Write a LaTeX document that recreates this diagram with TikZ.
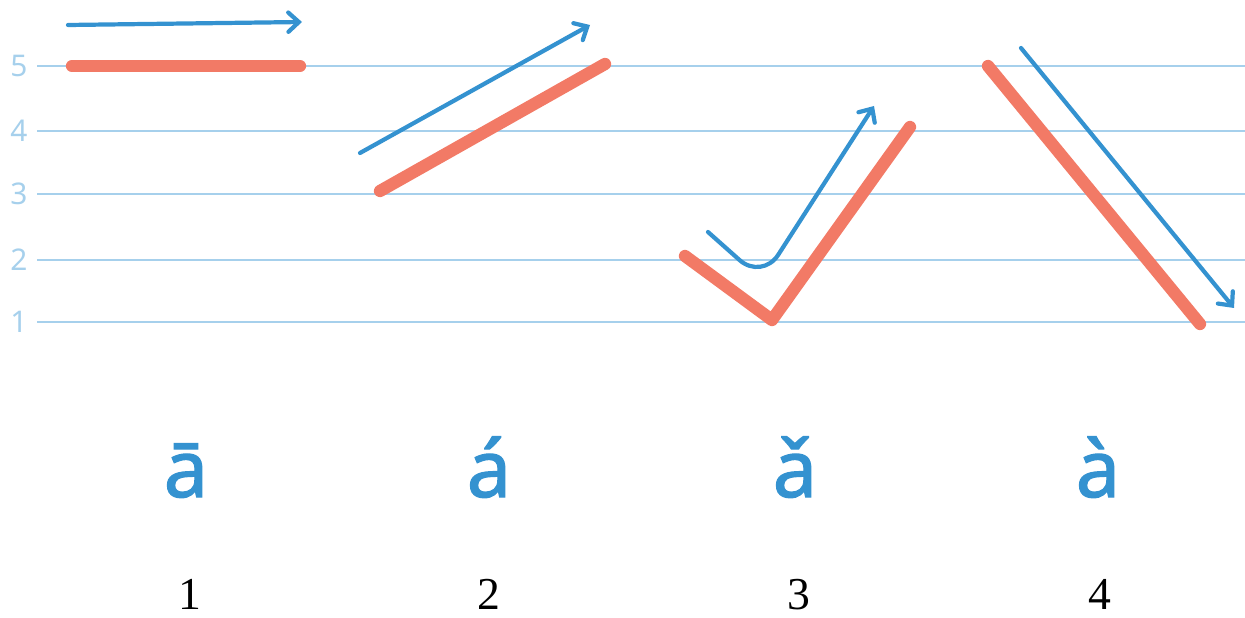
\documentclass[tikz,border=0pt]{standalone}
\usepackage{fontspec}
\setmainfont{Liberation Serif}
\newfontfamily\tonefont{Noto Sans}
\newfontfamily\syllfont{Noto Sans}[FakeBold=1.6]
\usetikzlibrary{arrows.meta}
\definecolor{gridblue}{RGB}{166,208,236}
\definecolor{toneblue}{RGB}{52,146,208}
\definecolor{tonered}{RGB}{242,122,102}

\begin{document}
\begin{tikzpicture}[
  x=0.02cm, y=-0.02cm,
  gridline/.style={gridblue, line width=1.6pt},
  levellabel/.style={gridblue, font=\tonefont\fontsize{17}{17}\selectfont, anchor=center},
  pitch/.style={tonered, line width=7pt, line cap=round, line join=round},
  contour/.style={toneblue, line width=2.4pt, line cap=round,
    -{Straight Barb[length=6pt,width=11pt,line cap=round]}},
  syll/.style={toneblue, font=\syllfont\fontsize{45}{45}\selectfont, anchor=base},
  num/.style={black, font=\fontsize{26}{26}\selectfont, anchor=base, inner sep=0pt}
]
\useasboundingbox (0,0) rectangle (1245,618);
% pitch levels
\foreach \lev/\yy in {5/66,4/131,3/194,2/260,1/322}{
  \node[levellabel] (lv\lev) at (19,\yy) {\lev};
  \draw[gridline] (37,\yy) -- (1245,\yy);
}
% tone 1
\draw[pitch] (72,66) -- (300,66);
\draw[contour] (68,25) -- (302,22);
% tone 2
\draw[pitch] (380,191) -- (605,64);
\draw[contour] (360,153) -- (590,25);
% tone 3
\draw[pitch] (685,256) -- (772,320) -- (910,127);
\draw[contour, rounded corners=0.6cm] (708,232) -- (762,280) -- (874,106);
% tone 4
\draw[pitch] (988,66) -- (1200,324);
\draw[contour] (1021,48) -- (1234,308);
% syllables and tone numbers
\node[syll] (s1) at (186,497) {ā};
\node[syll] (s2) at (489,497) {á};
\node[syll] (s3) at (795,497) {ǎ};
\node[syll] (s4) at (1098,497) {à};
\node[num] (n1) at (190,609) {1};
\node[num] (n2) at (489,609) {2};
\node[num] (n3) at (799,609) {3};
\node[num] (n4) at (1100,609) {4};
\end{tikzpicture}
\end{document}
